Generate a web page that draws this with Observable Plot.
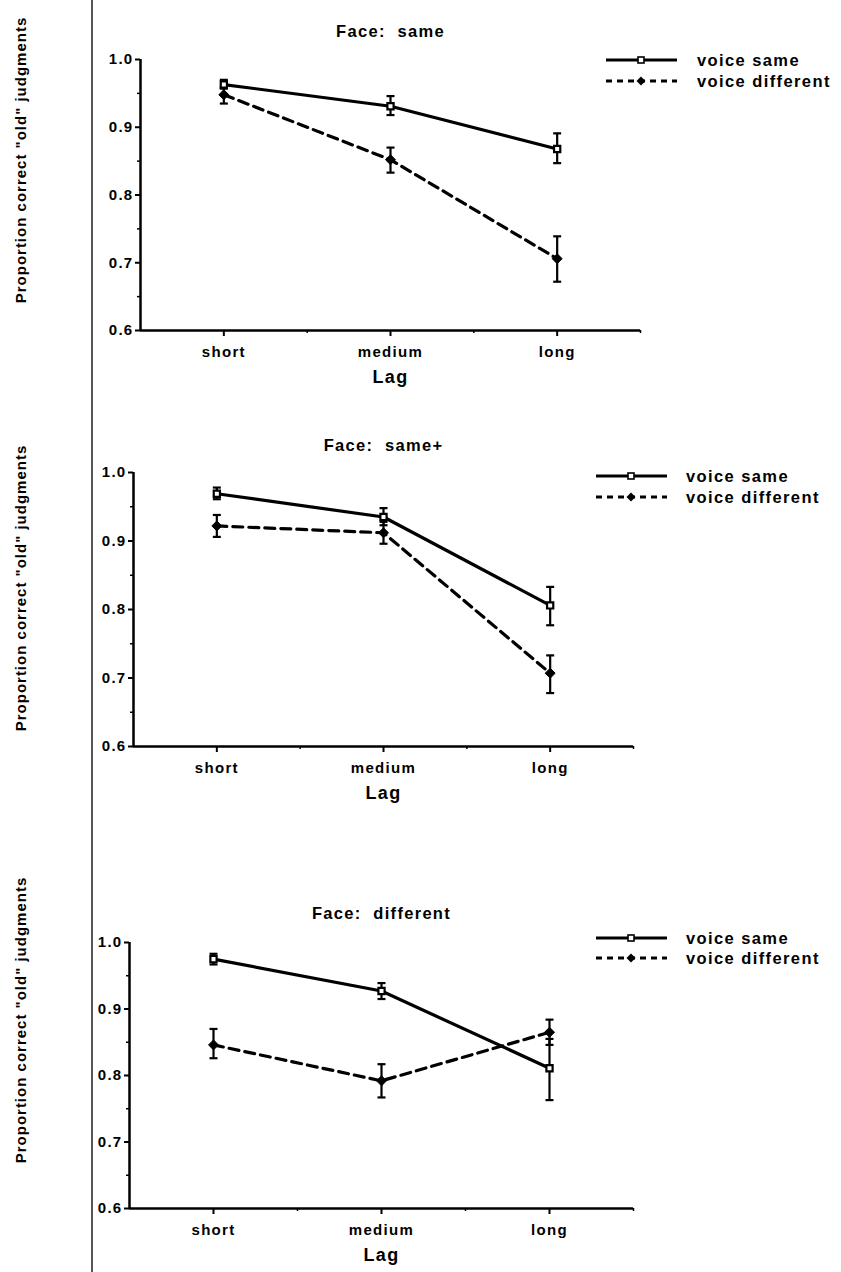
<!DOCTYPE html>
<html><head><meta charset="utf-8">
<script src="https://cdn.jsdelivr.net/npm/d3@7"></script>
<script src="https://cdn.jsdelivr.net/npm/@observablehq/plot@0.6"></script>
<style>
body{margin:0;background:#fff;}
#page{position:relative;width:841px;height:1272px;overflow:hidden;background:#fff;font-family:"Liberation Sans",Arial,Helvetica,sans-serif;font-weight:bold;color:#000;}
.panel{position:absolute;left:0;}
.ylab{position:absolute;transform:translate(-50%,-50%) rotate(-90deg);white-space:nowrap;font-size:15px;letter-spacing:1px;}
.lgtext{position:absolute;font-size:16.5px;letter-spacing:1.4px;white-space:nowrap;transform:translateY(-50%);}
.sep{position:absolute;left:91px;top:0;width:1.5px;height:1272px;background:#555;}
</style></head><body><div id="page"><div class="sep"></div></div>
<script>
// ---------- data ----------
const lagLabels = ["short", "medium", "long"];
const seriesNames = ["voice same", "voice different"];
const faceTitles = ["Face:  same", "Face:  same+", "Face:  different"];
const yAxisLabel = "Proportion correct \"old\" judgments";
const xAxisLabel = "Lag";
const yTicks = [0.6, 0.7, 0.8, 0.9, 1.0];
const yMinorTicks = [0.65, 0.75, 0.85, 0.95];

// Face: same
const sameVoiceSame = [0.963, 0.931, 0.868];
const sameVoiceSameErr = [[0.957, 0.970], [0.918, 0.946], [0.847, 0.891]];
const sameVoiceDiff = [0.948, 0.852, 0.706];
const sameVoiceDiffErr = [[0.935, 0.958], [0.833, 0.870], [0.672, 0.739]];
// Face: same+
const samePlusVoiceSame = [0.969, 0.935, 0.806];
const samePlusVoiceSameErr = [[0.961, 0.978], [0.923, 0.948], [0.777, 0.833]];
const samePlusVoiceDiff = [0.922, 0.912, 0.707];
const samePlusVoiceDiffErr = [[0.906, 0.938], [0.896, 0.928], [0.678, 0.733]];
// Face: different
const diffVoiceSame = [0.975, 0.927, 0.811];
const diffVoiceSameErr = [[0.967, 0.983], [0.915, 0.939], [0.763, 0.855]];
const diffVoiceDiff = [0.846, 0.792, 0.865];
const diffVoiceDiffErr = [[0.826, 0.870], [0.767, 0.817], [0.846, 0.884]];

// ---------- layout ----------
const FONT = '"Liberation Sans", Arial, Helvetica, sans-serif';
const panels = [
  {title: faceTitles[0], vs: sameVoiceSame, vsErr: sameVoiceSameErr, vd: sameVoiceDiff, vdErr: sameVoiceDiffErr,
   top: 0, height: 400, mt: 59, mb: 70, ml: 140, mr: 201, titleDy: -28,
   ylabY: 160, lgX: 605, lgText: 697, lgY: [60, 81]},
  {title: faceTitles[1], vs: samePlusVoiceSame, vsErr: samePlusVoiceSameErr, vd: samePlusVoiceDiff, vdErr: samePlusVoiceDiffErr,
   top: 410, height: 410, mt: 62, mb: 74, ml: 133, mr: 208, titleDy: -27,
   ylabY: 588, lgX: 595, lgText: 686, lgY: [476, 497]},
  {title: faceTitles[2], vs: diffVoiceSame, vsErr: diffVoiceSameErr, vd: diffVoiceDiff, vdErr: diffVoiceDiffErr,
   top: 870, height: 402, mt: 72, mb: 64, ml: 129, mr: 208, titleDy: -29,
   ylabY: 1020, lgX: 595, lgText: 686, lgY: [938, 958]}
];

const xDomain = [0.5, lagLabels.length + 0.5];
const yDomain = [yTicks[0], yTicks[yTicks.length - 1]];
const xMajor = lagLabels.map((_, i) => i + 1);
const xMinor = lagLabels.map((_, i) => i + 1.5);
const xMid = (lagLabels.length + 1) / 2;
const capSymbol = {draw(ctx, size) { const w = Math.sqrt(size / Math.PI); ctx.moveTo(-w, 0); ctx.lineTo(w, 0); }};

const page = document.getElementById("page");

function rowsFor(vals, errs, series) {
  return vals.map((v, i) => ({lag: i + 1, value: v, lo: errs[i][0], hi: errs[i][1], series}));
}

panels.forEach(p => {
  const vsRows = rowsFor(p.vs, p.vsErr, seriesNames[0]);
  const vdRows = rowsFor(p.vd, p.vdErr, seriesNames[1]);
  const all = vsRows.concat(vdRows);
  const chart = Plot.plot({
    width: 841, height: p.height,
    marginTop: p.mt, marginBottom: p.mb, marginLeft: p.ml, marginRight: p.mr,
    x: {type: "linear", domain: xDomain},
    y: {type: "linear", domain: yDomain},
    style: {fontFamily: FONT, fontWeight: "bold", fontSize: "15px", color: "#000", background: "transparent", overflow: "visible", letterSpacing: "1.3px"},
    marks: [
      Plot.ruleX([xDomain[0]], {stroke: "#000", strokeWidth: 2.5}),
      Plot.ruleY([yDomain[0]], {stroke: "#000", strokeWidth: 2.5}),
      Plot.axisY({ticks: yTicks, tickSize: 5, tickPadding: 2, tickFormat: ".1f", label: null, strokeWidth: 2}),
      Plot.axisY({ticks: yMinorTicks, tickSize: 3, tickFormat: () => "", label: null, strokeWidth: 1.5}),
      Plot.axisX({ticks: xMajor, tickSize: 6, tickPadding: 10, tickFormat: d => lagLabels[Math.round(d) - 1], label: null, strokeWidth: 2}),
      Plot.axisX({ticks: xMinor, tickSize: 3, tickFormat: () => "", label: null, strokeWidth: 1.5}),
      Plot.text([p.title], {x: xMid, frameAnchor: "top", lineAnchor: "middle", dy: p.titleDy, fontSize: 16.5, fontWeight: "bold"}),
      Plot.text([xAxisLabel], {x: xMid, frameAnchor: "bottom", lineAnchor: "middle", dy: 47, fontSize: 18, fontWeight: "bold"}),
      Plot.line(vsRows, {x: "lag", y: "value", stroke: "#000", strokeWidth: 3.2}),
      Plot.line(vdRows, {x: "lag", y: "value", stroke: "#000", strokeWidth: 3.2, strokeDasharray: "10,6"}),
      Plot.ruleX(all, {x: "lag", y1: "lo", y2: "hi", stroke: "#000", strokeWidth: 2.2}),
      Plot.dot(all, {x: "lag", y: "lo", symbol: capSymbol, r: 4, stroke: "#000", strokeWidth: 2.2, fill: "none"}),
      Plot.dot(all, {x: "lag", y: "hi", symbol: capSymbol, r: 4, stroke: "#000", strokeWidth: 2.2, fill: "none"}),
      Plot.dot(vsRows, {x: "lag", y: "value", symbol: "square", r: 3.5, fill: "#fff", stroke: "#000", strokeWidth: 2.2}),
      Plot.dot(vdRows, {x: "lag", y: "value", symbol: "diamond2", r: 4.5, fill: "#000", stroke: "#000", strokeWidth: 1})
    ]
  });
  const div = document.createElement("div");
  div.className = "panel";
  div.style.top = p.top + "px";
  div.appendChild(chart);
  page.appendChild(div);

  // y-axis label
  const yl = document.createElement("div");
  yl.className = "ylab";
  yl.style.left = "20px";
  yl.style.top = p.ylabY + "px";
  yl.textContent = yAxisLabel;
  page.appendChild(yl);

  // legend
  seriesNames.forEach((name, i) => {
    const ns = "http://www.w3.org/2000/svg";
    const svg = document.createElementNS(ns, "svg");
    svg.setAttribute("width", 74); svg.setAttribute("height", 14);
    svg.style.position = "absolute";
    svg.style.left = p.lgX + "px";
    svg.style.top = (p.lgY[i] - 7) + "px";
    const ln = document.createElementNS(ns, "line");
    ln.setAttribute("x1", 1); ln.setAttribute("x2", 72); ln.setAttribute("y1", 7); ln.setAttribute("y2", 7);
    ln.setAttribute("stroke", "#000"); ln.setAttribute("stroke-width", 3.2);
    if (i === 1) ln.setAttribute("stroke-dasharray", "6,5");
    svg.appendChild(ln);
    if (i === 0) {
      const r = document.createElementNS(ns, "rect");
      r.setAttribute("x", 33); r.setAttribute("y", 4); r.setAttribute("width", 6); r.setAttribute("height", 6);
      r.setAttribute("fill", "#fff"); r.setAttribute("stroke", "#000"); r.setAttribute("stroke-width", 1.6);
      svg.appendChild(r);
    } else {
      const d = document.createElementNS(ns, "path");
      d.setAttribute("d", "M36,2.5 L40.5,7 L36,11.5 L31.5,7 Z");
      d.setAttribute("fill", "#000");
      svg.appendChild(d);
    }
    page.appendChild(svg);
    const t = document.createElement("div");
    t.className = "lgtext";
    t.style.left = p.lgText + "px";
    t.style.top = p.lgY[i] + "px";
    t.textContent = name;
    page.appendChild(t);
  });
});
</script></body></html>
